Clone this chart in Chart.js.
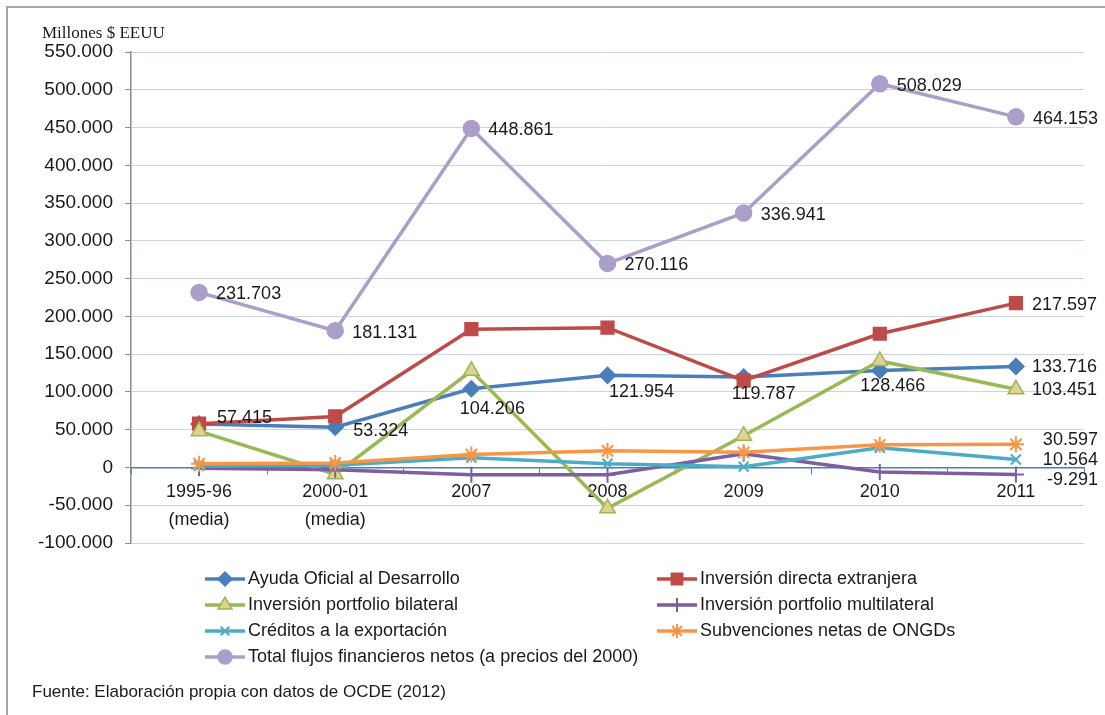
<!DOCTYPE html>
<html>
<head>
<meta charset="utf-8">
<script src="https://cdn.jsdelivr.net/npm/chart.js@4.4.1/dist/chart.umd.min.js"></script>
<style>
  html, body { margin: 0; padding: 0; background: #fff; }
  #wrap { width: 1105px; height: 715px; position: relative; }
</style>
</head>
<body>
<div id="wrap"><canvas id="chart" width="1105" height="715"></canvas></div>
<script>
// categories and values (millones $ EEUU)
const categories = [["1995-96", "(media)"], ["2000-01", "(media)"], "2007", "2008", "2009", "2010", "2011"];
const yTickValues = [-100000, -50000, 0, 50000, 100000, 150000, 200000, 250000, 300000, 350000, 400000, 450000, 500000, 550000];

const ayudaOficial = [57415, 53324, 104206, 121954, 119787, 128466, 133716];
const inversionDirecta = [58000, 67500, 183000, 185000, 115000, 177000, 217597];
const portfolioBilateral = [48000, -9000, 128000, -54000, 42000, 141000, 103451];
const portfolioMultilateral = [-1000, -3000, -9500, -9500, 18000, -6000, -9291];
const creditosExportacion = [2000, 3000, 13000, 5000, 1000, 26000, 10564];
const subvencionesONGD = [5000, 6000, 17000, 22000, 20000, 30000, 30597];
const totalFlujos = [231703, 181131, 448861, 270116, 336941, 508029, 464153];

const seriesNames = [
  "Ayuda Oficial al Desarrollo",
  "Inversión directa extranjera",
  "Inversión portfolio bilateral",
  "Inversión portfolio multilateral",
  "Créditos a la exportación",
  "Subvenciones netas de ONGDs",
  "Total flujos financieros netos (a precios del 2000)"
];

const FONT = "'Liberation Sans', Arial, sans-serif";

function fmt(v) {
  const s = Math.abs(Math.round(v)).toString().replace(/\B(?=(\d{3})+(?!\d))/g, ".");
  return (v < 0 ? "-" : "") + s;
}

// where each value label goes, relative to its point
const aodShift = [[18, -6, "left"], [18, 4, "left"], [21, 20, "center"], [34, 17, "center"], [20, 17, "center"], [13, 16, "center"], [16, 1, "left"]];
const lastOnly = (dx, dy, align) => i => i === 6 ? { dx, dy, align } : null;

function mkSet(name, data, color, style, radius, extra) {
  return Object.assign({
    label: name,
    data: data,
    borderColor: color,
    backgroundColor: color,
    pointBackgroundColor: color,
    pointBorderColor: color,
    borderWidth: 3.5,
    pointStyle: style,
    pointRadius: radius,
    pointHoverRadius: radius,
    pointBorderWidth: 1.5,
    tension: 0,
    fill: false
  }, extra || {});
}

const datasets = [
  mkSet(seriesNames[0], ayudaOficial, "#4a7ebb", "rectRot", 8, {
    valueLabel: i => ({ dx: aodShift[i][0], dy: aodShift[i][1], align: aodShift[i][2] })
  }),
  mkSet(seriesNames[1], inversionDirecta, "#be4b48", "rect", 9, { valueLabel: lastOnly(16, 2, "left") }),
  mkSet(seriesNames[2], portfolioBilateral, "#98b954", "triangle", 9, {
    pointBackgroundColor: "#e0d292", pointBorderColor: "#98b954", valueLabel: lastOnly(16, 1, "left")
  }),
  mkSet(seriesNames[3], portfolioMultilateral, "#7d5fa0", "cross", 8, {
    pointBorderWidth: 2, valueLabel: lastOnly(82, 6, "right")
  }),
  mkSet(seriesNames[4], creditosExportacion, "#4bacc6", "crossRot", 7, {
    pointBorderWidth: 2, valueLabel: lastOnly(82, 1, "right")
  }),
  mkSet(seriesNames[5], subvencionesONGD, "#f79646", "star", 8, {
    pointBorderWidth: 2, valueLabel: lastOnly(82, -4, "right")
  }),
  mkSet(seriesNames[6], totalFlujos, "#ab9ec9", "circle", 8, { valueLabel: i => ({ dx: 17, dy: 2, align: "left" }) })
];
// later series drawn on top, like the original
datasets.forEach((d, i) => { d.order = datasets.length - i; });

const valueLabels = {
  id: "valueLabels",
  afterDatasetsDraw(chart) {
    const ctx = chart.ctx;
    ctx.save();
    ctx.font = "18px " + FONT;
    ctx.fillStyle = "#1a1a1a";
    ctx.textBaseline = "middle";
    chart.data.datasets.forEach((ds, di) => {
      if (!ds.valueLabel) return;
      const meta = chart.getDatasetMeta(di);
      meta.data.forEach((pt, i) => {
        const p = ds.valueLabel(i);
        if (!p) return;
        ctx.textAlign = p.align;
        ctx.fillText(fmt(ds.data[i]), pt.x + p.dx, pt.y + p.dy);
      });
    });
    ctx.restore();
  }
};

const frame = {
  id: "frame",
  afterDraw(chart) {
    const ctx = chart.ctx;
    ctx.save();
    // outer border (top and left only visible)
    ctx.strokeStyle = "#a6a6a6";
    ctx.lineWidth = 2;
    ctx.beginPath();
    ctx.moveTo(7, 715);
    ctx.lineTo(7, 7);
    ctx.lineTo(1105, 7);
    ctx.stroke();

    ctx.fillStyle = "#1a1a1a";
    ctx.textBaseline = "alphabetic";
    ctx.font = "17px 'Liberation Serif', 'Times New Roman', serif";
    ctx.fillText("Millones $ EEUU", 42, 38);

    // legend, two columns
    const colX = [205, 657];
    const rowY = [579, 605, 631, 657];
    ctx.font = "18px " + FONT;
    ctx.textBaseline = "middle";
    chart.data.datasets.forEach((ds, k) => {
      const x = colX[k % 2];
      const y = rowY[Math.floor(k / 2)];
      ctx.strokeStyle = ds.borderColor;
      ctx.lineWidth = 3.5;
      ctx.beginPath();
      ctx.moveTo(x, y);
      ctx.lineTo(x + 40, y);
      ctx.stroke();
      ctx.fillStyle = ds.pointBackgroundColor;
      ctx.strokeStyle = ds.pointBorderColor;
      ctx.lineWidth = ds.pointBorderWidth;
      Chart.helpers.drawPoint(ctx, {
        pointStyle: ds.pointStyle, radius: ds.pointRadius - 1, borderWidth: ds.pointBorderWidth, rotation: 0
      }, x + 20, y);
      ctx.fillStyle = "#1a1a1a";
      ctx.textAlign = "left";
      ctx.fillText(ds.label, x + 43, y);
    });

    ctx.font = "17px " + FONT;
    ctx.fillText("Fuente: Elaboración propia con datos de OCDE (2012)", 32, 692);
    ctx.restore();
  }
};

new Chart(document.getElementById("chart").getContext("2d"), {
  type: "line",
  data: { labels: categories, datasets: datasets },
  options: {
    responsive: false,
    animation: false,
    layout: { padding: { left: 0, right: 21, top: 52, bottom: 172 } },
    plugins: {
      legend: { display: false },
      tooltip: { enabled: true }
    },
    scales: {
      x: {
        type: "category",
        position: { y: 0 },
        offset: true,
        grid: { drawOnChartArea: false, drawTicks: true, tickLength: 6, color: "#4a7ebb", offset: true },
        border: { color: "#4a7ebb", width: 1.5 },
        ticks: { color: "#1a1a1a", font: { family: FONT, size: 18, lineHeight: 1.55 }, padding: 5, maxRotation: 0, autoSkip: false }
      },
      y: {
        min: -100000,
        max: 550000,
        afterBuildTicks: scale => { scale.ticks = yTickValues.map(v => ({ value: v })); },
        afterFit: scale => { scale.width = 131; },
        grid: { color: "#c9d4e6", lineWidth: 1, drawTicks: true, tickLength: 6, tickColor: "#8c8c8c" },
        border: { color: "#8c8c8c", width: 1.5 },
        ticks: { color: "#1a1a1a", font: { family: FONT, size: 19 }, padding: 12, callback: v => fmt(v) }
      }
    }
  },
  plugins: [valueLabels, frame]
});
</script>
</body>
</html>
